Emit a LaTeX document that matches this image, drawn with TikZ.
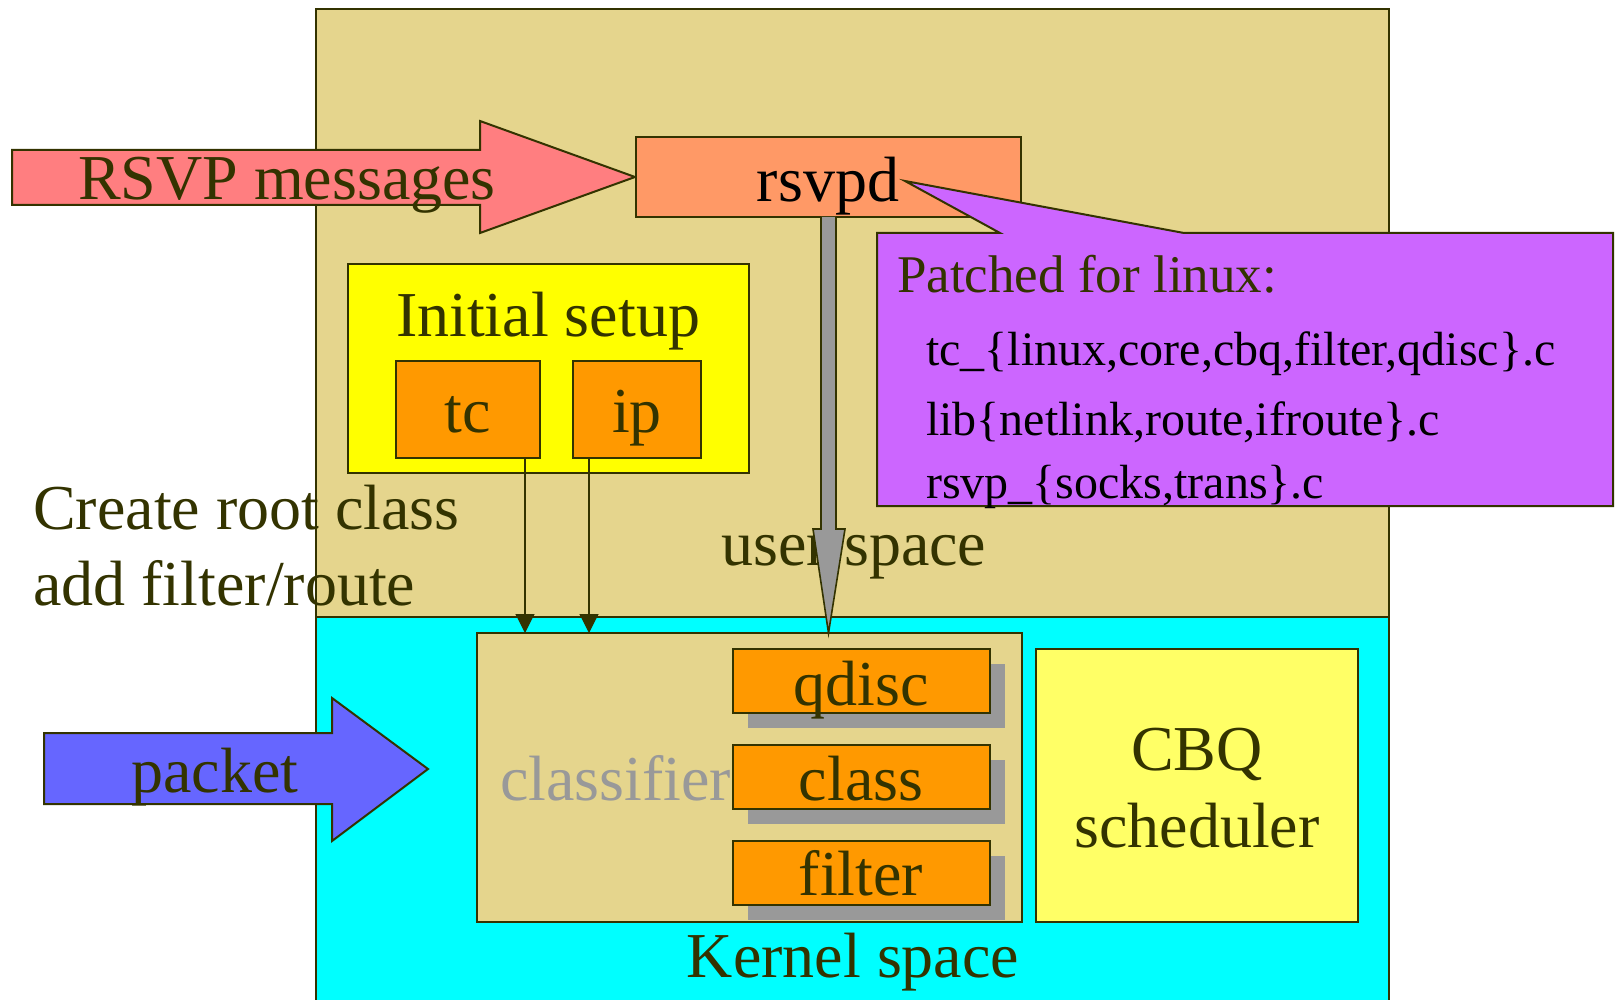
\documentclass[tikz,border=0pt]{standalone}
\usepackage{fontspec}
\setmainfont{Liberation Serif}
\usetikzlibrary{arrows.meta,calc,shadows}

\definecolor{ink}{RGB}{51,51,0}
\definecolor{usertan}{RGB}{229,213,141}
\definecolor{kernelcyan}{RGB}{0,255,255}
\definecolor{rsvppink}{RGB}{255,126,128}
\definecolor{daemon}{RGB}{255,153,102}
\definecolor{notepurple}{RGB}{204,102,255}
\definecolor{setupyellow}{RGB}{255,255,0}
\definecolor{toolorange}{RGB}{255,153,0}
\definecolor{packetblue}{RGB}{102,102,255}
\definecolor{schedyellow}{RGB}{255,255,102}
\definecolor{shadowgrey}{RGB}{153,153,153}

\newcommand\txtL{\fontsize{64}{70}\selectfont}
\newcommand\txtM{\fontsize{53}{60}\selectfont}
\newcommand\txtS{\fontsize{48}{56}\selectfont}

\begin{document}
\begin{tikzpicture}[x=1pt,y=-1pt,
  outline/.style={draw=ink,line width=2pt,line join=miter},
  boxnode/.style={outline,anchor=north west,inner sep=0pt,outer sep=0pt},
  shadowed/.style={boxnode,fill=toolorange,minimum width=257pt,minimum height=64pt,
    drop shadow={shadow xshift=15pt,shadow yshift=-15pt,opacity=1,fill=shadowgrey}},
  word/.style={anchor=base,inner sep=0pt,text=ink,font=\txtL},
  thinarrow/.style={draw=ink,line width=1.2pt,-{Triangle[length=19pt,width=19pt]}}
]
\useasboundingbox (0,0) rectangle (1617,1000);
\clip (0,0) rectangle (1617,1000);

% the two address spaces
\node[boxnode,fill=kernelcyan,minimum width=1073pt,minimum height=400pt] (kernel) at (316,617) {};
\node[boxnode,fill=usertan,minimum width=1073pt,minimum height=608pt] (user) at (316,9) {};

% notes on the left
\node[word,anchor=base west] (createtxt) at (33,529) {Create root class};
\node[word,anchor=base west] (addtxt) at (33,605) {add filter/route};

% incoming RSVP messages
\draw[outline,fill=rsvppink] (12,150) -- (480,150) -- (480,121) -- (635,177)
  -- (480,233) -- (480,205) -- (12,205) -- cycle;
\node[word] (rsvptxt) at (287,200) {RSVP messages};

% the daemon
\node[boxnode,fill=daemon,minimum width=385pt,minimum height=80pt] (rsvpd) at (636,137) {};
\node[word,text=black] (rsvpdtxt) at (828,202) {rsvpd};

% callout listing the patched sources
\draw[outline,fill=notepurple] (877,233) -- (1000,233) -- (905,181) -- (1184,233)
  -- (1613,233) -- (1613,506) -- (877,506) -- cycle;
\node[anchor=base west,inner sep=0pt,text=ink,font=\txtM] (notehead) at (897,293) {Patched for linux:};
\node[anchor=base west,inner sep=0pt,font=\txtS] (note1) at (926,365) {tc\_\{linux,core,cbq,filter,qdisc\}.c};
\node[anchor=base west,inner sep=0pt,font=\txtS] (note2) at (926,435) {lib\{netlink,route,ifroute\}.c};
\node[anchor=base west,inner sep=0pt,font=\txtS] (note3) at (926,498) {rsvp\_\{socks,trans\}.c};

% initial setup tools
\node[boxnode,fill=setupyellow,minimum width=401pt,minimum height=209pt] (setup) at (348,264) {};
\node[word] (setuptxt) at (548,337) {Initial setup};
\node[boxnode,fill=toolorange,minimum width=144pt,minimum height=97pt] (tc) at (396,361) {};
\node[word] (tctxt) at (468,432) {tc};
\node[boxnode,fill=toolorange,minimum width=128pt,minimum height=97pt] (ip) at (573,361) {};
\node[word] (iptxt) at (637,432) {ip};

\node[word] (usertxt) at (854,565) {user space};

% kernel side: classifier and scheduler
\node[boxnode,fill=usertan,minimum width=545pt,minimum height=289pt] (classifier) at (477,633) {};
\node[word,anchor=base west,text=shadowgrey] (classtxt) at (500,800) {classifier};

\node[shadowed] (qdisc) at (733,649) {};
\node[word] (qdisctxt) at (861,705) {qdisc};
\node[shadowed] (class) at (733,745) {};
\node[word] (classboxtxt) at (861,800) {class};
\node[shadowed] (filter) at (733,841) {};
\node[word] (filtertxt) at (861,895) {filter};

\node[boxnode,fill=schedyellow,minimum width=322pt,minimum height=273pt] (cbq) at (1036,649) {};
\node[word] (cbqtxt) at (1197,770) {CBQ};
\node[word] (schedtxt) at (1197,847) {scheduler};

\node[word] (kerneltxt) at (853,977) {Kernel space};

% incoming packet
\draw[outline,fill=packetblue] (44,733) -- (332,733) -- (332,698) -- (428,769)
  -- (332,841) -- (332,804) -- (44,804) -- cycle;
\node[word] (packettxt) at (215,792) {packet};

% daemon talks to the kernel
\coordinate (gtop) at (rsvpd.south);
\coordinate (gtip) at (gtop |- classifier.north);
\draw[outline,line width=1.6pt,fill=shadowgrey]
  ($(gtop)+(-7.5,0)$) -- ($(gtop)+(-7.5,312)$) -- ($(gtop)+(-15.5,312)$) -- (gtip)
  -- ($(gtop)+(16.5,312)$) -- ($(gtop)+(7.5,312)$) -- ($(gtop)+(7.5,0)$);

% setup tools configure the classifier
\coordinate (tcout) at ($(tc.south)+(57,0)$);
\coordinate (ipout) at ($(ip.south)+(-48,0)$);
\draw[thinarrow] (tcout) -- (tcout |- classifier.north);
\draw[thinarrow] (ipout) -- (ipout |- classifier.north);
\end{tikzpicture}
\end{document}
